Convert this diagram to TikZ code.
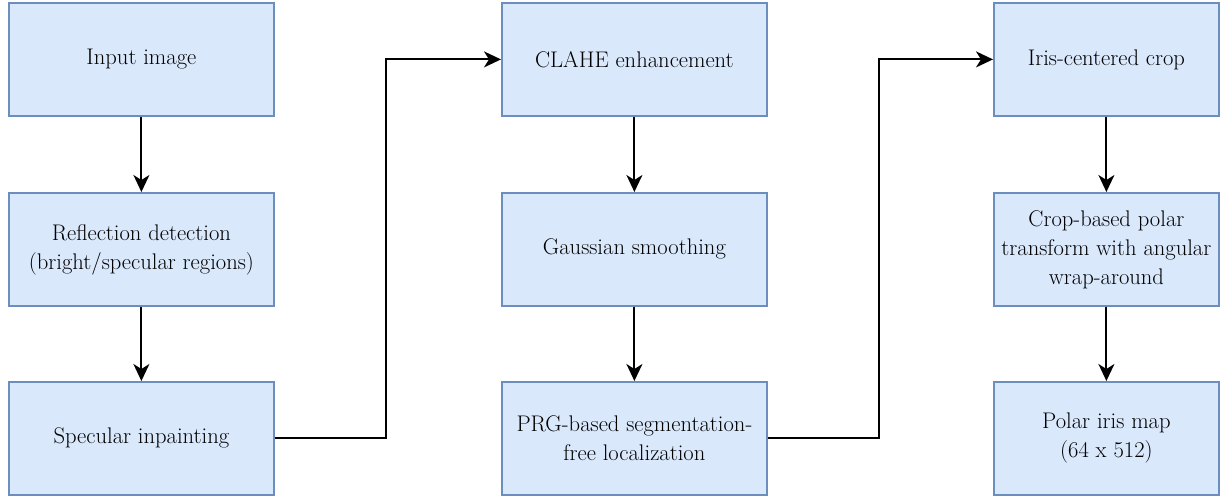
\documentclass[tikz,border=0pt]{standalone}
\usepackage{fontspec}
\usetikzlibrary{arrows.meta}
\definecolor{boxfill}{HTML}{DAE8FC}
\definecolor{boxline}{HTML}{6C8EBF}
\begin{document}
\begin{tikzpicture}[x=1pt,y=-1pt,
  box/.style={draw=boxline, fill=boxfill, line width=1.8pt, anchor=north west,
    inner sep=0pt, align=center, text=black,
    font=\rmfamily\fontsize{22.6pt}{29pt}\selectfont},
  wideb/.style={box, minimum width=265pt, minimum height=113pt},
  narrowb/.style={box, minimum width=225pt, minimum height=113pt},
  conn/.style={draw=black, line width=1.9pt, -{Stealth[length=17pt,width=16pt,inset=5pt]}}]
\useasboundingbox (0,0) rectangle (1220,500);
\node[wideb] (a1) at (8,2) {Input image};
\node[wideb] (a2) at (8,192) {Reflection detection\\(bright/specular regions)};
\node[wideb] (a3) at (8,381) {Specular inpainting};
\node[wideb] (b1) at (501,2) {CLAHE enhancement};
\node[wideb] (b2) at (501,192) {Gaussian smoothing};
\node[wideb] (b3) at (501,381) {PRG-based segmentation-\\free localization};
\node[narrowb] (c1) at (993,2) {Iris-centered crop};
\node[narrowb] (c2) at (993,192) {Crop-based polar\\transform with angular\\wrap-around};
\node[narrowb] (c3) at (993,381) {Polar iris map\\(64 x 512)};
\draw[conn] (a1) -- (a2);
\draw[conn] (a2) -- (a3);
\draw[conn] (b1) -- (b2);
\draw[conn] (b2) -- (b3);
\draw[conn] (c1) -- (c2);
\draw[conn] (c2) -- (c3);
\coordinate (k1) at (386,0);
\coordinate (k2) at (879,0);
\draw[conn] (a3.east) -| (k1 |- a3.east) -- (k1 |- b1.west) -- (b1.west);
\draw[conn] (b3.east) -| (k2 |- b3.east) -- (k2 |- c1.west) -- (c1.west);
\end{tikzpicture}
\end{document}
